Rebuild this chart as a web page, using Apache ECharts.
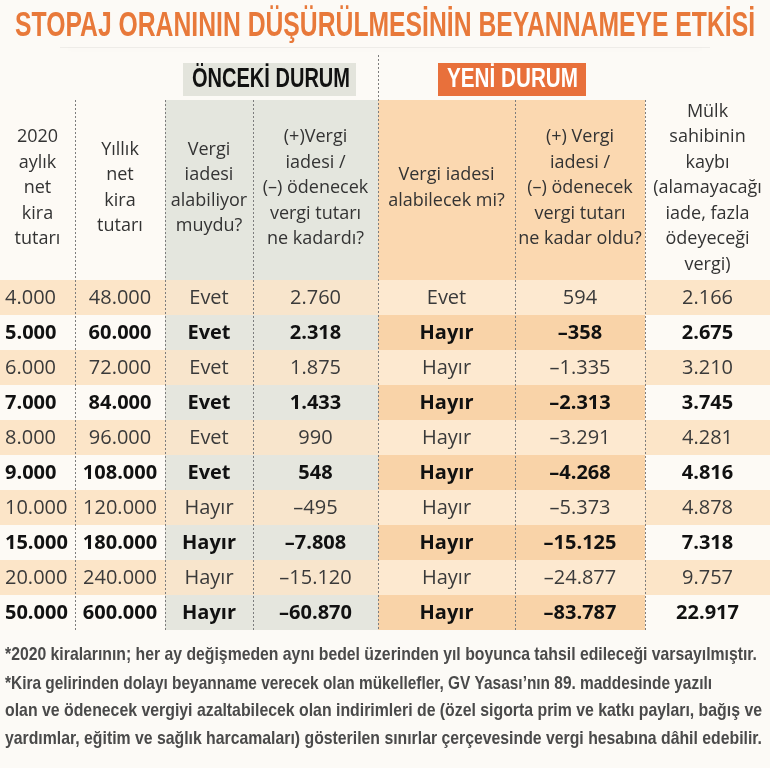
<!DOCTYPE html>
<html>
<head>
<meta charset="utf-8">
<script src="https://cdn.jsdelivr.net/npm/echarts@6/dist/echarts.min.js"></script>
<style>
  html, body { margin: 0; padding: 0; background: #fcfaf6; }
  #chart { width: 770px; height: 768px; }
</style>
</head>
<body>
<div id="chart"></div>
<script>
// tablo verileri
const monthlyRent = [4000, 5000, 6000, 7000, 8000, 9000, 10000, 15000, 20000, 50000];
const annualRent = [48000, 60000, 72000, 84000, 96000, 108000, 120000, 180000, 240000, 600000];
const prevRefund = ['Evet', 'Evet', 'Evet', 'Evet', 'Evet', 'Evet', 'Hayır', 'Hayır', 'Hayır', 'Hayır'];
const prevAmount = [2760, 2318, 1875, 1433, 990, 548, -495, -7808, -15120, -60870];
const newRefund = ['Evet', 'Hayır', 'Hayır', 'Hayır', 'Hayır', 'Hayır', 'Hayır', 'Hayır', 'Hayır', 'Hayır'];
const newAmount = [594, -358, -1335, -2313, -3291, -4268, -5373, -15125, -24877, -83787];
const ownerLoss = [2166, 2675, 3210, 3745, 4281, 4816, 4878, 7318, 9757, 22917];

const headers = [
  '2020\naylık\nnet\nkira\ntutarı',
  'Yıllık\nnet\nkira\ntutarı',
  'Vergi\niadesi\nalabiliyor\nmuydu?',
  '(+)Vergi\niadesi /\n(–) ödenecek\nvergi tutarı\nne kadardı?',
  'Vergi iadesi\nalabilecek mi?',
  '(+) Vergi\niadesi /\n(–) ödenecek\nvergi tutarı\nne kadar oldu?',
  'Mülk\nsahibinin\nkaybı\n(alamayacağı\niade, fazla\nödeyeceği\nvergi)'
];

const title = 'STOPAJ ORANININ DÜŞÜRÜLMESİNİN BEYANNAMEYE ETKİSİ';
const notes = [
  '*2020 kiralarının; her ay değişmeden aynı bedel üzerinden yıl boyunca tahsil edileceği varsayılmıştır.',
  '*Kira gelirinden dolayı beyanname verecek olan mükellefler, GV Yasası’nın 89. maddesinde yazılı',
  'olan ve ödenecek vergiyi azaltabilecek olan indirimleri de (özel sigorta prim ve katkı payları, bağış ve',
  'yardımlar, eğitim ve sağlık harcamaları) gösterilen sınırlar çerçevesinde vergi hesabına dâhil edebilir.'
];

// sayı biçimi: 48.000, –1.335
function fmt(n) {
  const s = String(Math.abs(n)).replace(/\B(?=(\d{3})+(?!\d))/g, '.');
  return n < 0 ? '–' + s : s;
}

const columns = [
  monthlyRent.map(fmt),
  annualRent.map(fmt),
  prevRefund,
  prevAmount.map(fmt),
  newRefund,
  newAmount.map(fmt),
  ownerLoss.map(fmt)
];

// yerleşim
const colEdges = [0, 75, 165, 253, 378, 515, 645, 770];
const tableTop = 280, tableBottom = 630, headTop = 100;
const font = '"Open Sans", "Noto Sans", sans-serif';
const cond = '"Liberation Sans", Arial, sans-serif';

// dar yazı için yatay sıkıştırma oranı
const measureCtx = document.createElement('canvas').getContext('2d');
function fitScale(text, f, width) {
  measureCtx.font = f;
  return width / measureCtx.measureText(text).width;
}
function squeezed(text, f, left, width, cy, fill, z) {
  return {
    type: 'text', z: z || 4, x: left, y: cy, scaleX: fitScale(text, f, width),
    style: { text: text, x: 0, y: 0, align: 'left', verticalAlign: 'middle', font: f, fill: fill }
  };
}

function cellFill(c, r) {
  const odd = r % 2 === 0;
  if (c === 2 || c === 3) return odd ? '#f8e5cc' : '#e5e6de';
  if (c === 4 || c === 5) return odd ? '#fde9d0' : '#f9d3a8';
  return odd ? '#fce5c8' : '#fdfaf5';
}

const cellData = [];
columns.forEach((col, c) => col.forEach((v, r) => cellData.push([c, r])));

const chart = echarts.init(document.getElementById('chart'));

const graphics = [];
// başlık gölgesi
graphics.push({
  type: 'rect', silent: true, z: 1,
  shape: { x: 60, y: 44, width: 650, height: 4 },
  style: { fill: 'rgba(0,0,0,0.05)', shadowBlur: 12, shadowColor: 'rgba(0,0,0,0.3)', shadowOffsetY: 3 }
});
graphics.push({
  type: 'rect', silent: true, z: 2,
  shape: { x: 0, y: 0, width: 770, height: 47 },
  style: { fill: '#fcfaf6' }
});
graphics.push(squeezed(title, 'bold 35px ' + cond, 15, 740, 26, '#e8793a', 3));

// başlık kutuları
graphics.push({ type: 'rect', z: 3, shape: { x: 183, y: 63, width: 173, height: 33 }, style: { fill: '#e3e4dc' } });
graphics.push(squeezed('ÖNCEKİ DURUM', 'bold 27px ' + cond, 192, 158, 80, '#111'));
graphics.push({ type: 'rect', z: 3, shape: { x: 438, y: 63, width: 148, height: 33 }, style: { fill: '#e8703b' } });
graphics.push(squeezed('YENİ DURUM', 'bold 27px ' + cond, 447, 131, 80, '#fff'));

// başlık hücreleri
const headFill = ['#fdfaf5', '#fdfaf5', '#e4e6de', '#e4e6de', '#fbd8b0', '#fbd8b0', '#fdfaf5'];
headers.forEach((h, c) => {
  graphics.push({ type: 'rect', z: 1, shape: { x: colEdges[c], y: headTop, width: colEdges[c + 1] - colEdges[c], height: tableTop - headTop }, style: { fill: headFill[c] } });
  graphics.push({ type: 'text', z: 3, style: { text: h, x: (colEdges[c] + colEdges[c + 1]) / 2, y: 188, align: 'center', verticalAlign: 'middle', font: '18px ' + font, lineHeight: 25.5, fill: '#333' } });
});

// kesikli ayırıcılar
colEdges.slice(1, -1).forEach(x => {
  graphics.push({ type: 'line', z: 20, shape: { x1: x + 0.5, y1: x === 378 ? 55 : headTop, x2: x + 0.5, y2: tableBottom },
    style: { stroke: '#7d7d7d', lineWidth: 1, lineDash: [2, 2] } });
});

// dipnotlar
const noteWidths = [752, 707, 757, 757];
const noteY = [655, 684, 711, 739];
notes.forEach((t, i) => {
  graphics.push(squeezed(t, 'bold 19px ' + cond, 5, noteWidths[i], noteY[i], '#4a4a4a', 3));
});

chart.setOption({
  animation: false,
  backgroundColor: '#fcfaf6',
  grid: { left: 0, right: 0, top: tableTop, bottom: 768 - tableBottom },
  xAxis: { type: 'value', min: 0, max: 770, show: false },
  yAxis: { type: 'category', data: monthlyRent.map(fmt), inverse: true, show: false },
  graphic: graphics,
  series: [{
    type: 'custom',
    silent: true,
    z: 5,
    data: cellData,
    renderItem: function (params, api) {
      const c = api.value(0), r = api.value(1);
      const p0 = api.coord([colEdges[c], r]);
      const p1 = api.coord([colEdges[c + 1], r]);
      const h = api.size([0, 1])[1];
      const bold = r % 2 === 1;
      const text = columns[c][r];
      return {
        type: 'group',
        children: [
          { type: 'rect', shape: { x: p0[0], y: p0[1] - h / 2, width: p1[0] - p0[0], height: h }, style: { fill: cellFill(c, r) } },
          { type: 'text', style: {
              text: text,
              x: c === 0 ? p0[0] + 5 : (p0[0] + p1[0]) / 2,
              y: p0[1] + 1,
              align: c === 0 ? 'left' : 'center',
              verticalAlign: 'middle',
              font: (bold ? 'bold ' : '') + '20px ' + font,
              fill: bold ? '#111' : '#3a3a3a'
          } }
        ]
      };
    }
  }]
});
</script>
</body>
</html>
